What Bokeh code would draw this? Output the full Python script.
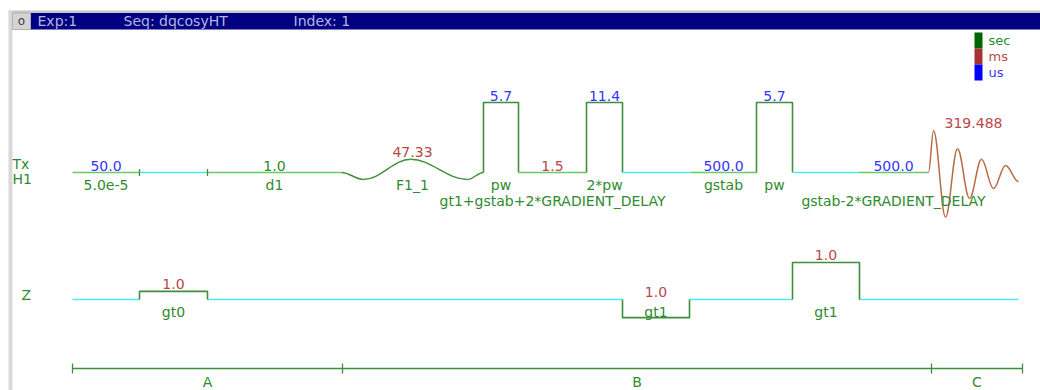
from bokeh.plotting import figure
from bokeh.models import Range1d, ColumnDataSource
from bokeh.core.properties import value
from bokeh.embed import file_html
from bokeh.resources import INLINE

# ---------------- data ----------------
exp_txt = "Exp:1"
seq_txt = "Seq: dqcosyHT"
idx_txt = "Index: 1"

# H1 channel events (schematic time axis of the diagram)
h1_kind = ["delay", "idle", "delay", "shape", "pulse", "delay", "pulse", "idle", "delay", "pulse", "idle", "delay", "acq"]
h1_t0 = [72, 139, 207, 341, 483, 518, 586, 622, 690, 756, 792, 858, 928]
h1_t1 = [139, 207, 341, 483, 518, 586, 622, 690, 756, 792, 858, 928, 1018]
h1_value = ["50.0", "", "1.0", "47.33", "5.7", "1.5", "11.4", "", "500.0", "5.7", "", "500.0", "319.488"]
h1_unit = ["us", "", "sec", "ms", "us", "ms", "us", "", "us", "us", "", "us", "ms"]
h1_name = ["5.0e-5", "", "d1", "F1_1", "pw", "gt1+gstab+2*GRADIENT_DELAY", "2*pw", "", "gstab", "pw", "",
           "gstab-2*GRADIENT_DELAY", ""]
h1_marks = [139, 207]

# shaped pulse F1_1 (relative amplitude at fractional positions)
shape_frac = [0.0, 0.155, 0.487, 0.887, 1.0]
shape_amp = [0.0, -0.10, 0.19, -0.10, 0.0]

# FID extrema (relative amplitude at fractional positions)
fid_frac = [0.0, 0.056, 0.189, 0.322, 0.456, 0.589, 0.722, 0.856, 1.0]
fid_amp = [0.0, 0.60, -0.64, 0.34, -0.37, 0.19, -0.23, 0.10, -0.13]

# Z gradient channel
z_t0 = [139, 622, 792]
z_t1 = [207, 689, 859]
z_amp = [0.22, -0.49, 1.0]
z_value = ["1.0", "1.0", "1.0"]
z_unit = ["ms", "ms", "ms"]
z_name = ["gt0", "gt1", "gt1"]
z_span = [72, 1018]

# sections
sec_names = ["A", "B", "C"]
sec_bounds = [72, 342, 931, 1022]

legend_units = ["sec", "ms", "us"]

# ---------------- layout / style ----------------
W, H = 1040, 390
X0, Y0 = 0, 0
H1_Y, H1_SCALE = 172, 70
Z_Y, Z_SCALE = 299, 37
T_Y = 368

FONT = value("DejaVu Sans")
FS = "14px"
unit_color = {"sec": "#2b8a2b", "ms": "#b84848", "us": "#3535f5", "": "#2b8a2b"}
square_color = {"sec": "#006400", "ms": "#a83232", "us": "#0000ff"}
LIGHT_GREEN = "#66cc66"
DARK_GREEN = "#3e8e3e"
CYAN = "#55e6ee"
NAME_GREEN = "#2e8b2e"
FID_COLOR = "#b86a44"

p = figure(width=W, height=H, x_range=Range1d(X0, X0 + W), y_range=Range1d(Y0 + H, Y0),
           output_backend="svg", toolbar_location=None, min_border=0)
p.axis.visible = False
p.grid.visible = False
p.outline_line_color = None
p.background_fill_color = "white"


def txt(x, y, t, color, align="center", size=FS):
    p.text(x=x, y=y, text=t, text_color=color, text_align=align, text_baseline="middle",
           text_font=FONT, text_font_size=size)


# frame / header
p.quad(left=[8], right=[1040], top=[10], bottom=[12.5], fill_color="#c8c8c8", line_color=None)
p.quad(left=[8], right=[12], top=[10], bottom=[392], fill_color="#d8d8d8", line_color=None)
p.quad(left=[12], right=[1040], top=[12.5], bottom=[29], fill_color="#000080", line_color=None)
p.quad(left=[12], right=[30], top=[12.5], bottom=[29], fill_color="#d4d4d4", line_color="#b0b0b0")
txt([21], [20], ["o"], "#404040", size="12px")
txt([37, 123, 293], [20.5, 20.5, 20.5], [exp_txt, seq_txt, idx_txt], "#b4b4e4", align="left", size="14px")

# legend
for i, u in enumerate(legend_units):
    p.quad(left=[974], right=[982], top=[32 + 16 * i], bottom=[48 + 16 * i],
           fill_color=square_color[u], line_color=None)
    txt([988], [40 + 16 * i], [u], unit_color[u], align="left", size="13px")

# channel labels
txt([12, 12], [163, 178], ["Tx", "H1"], NAME_GREEN, align="left")
txt([21], [294], ["Z"], NAME_GREEN, align="left")

# ---- H1 channel ----
vx, vy, vt, vc = [], [], [], []
nx, ny, nt = [], [], []
for k, a, b, v, u, n in zip(h1_kind, h1_t0, h1_t1, h1_value, h1_unit, h1_name):
    mid = (a + b) / 2
    if k in ("delay", "idle"):
        p.segment(x0=[a], y0=[H1_Y], x1=[b], y1=[H1_Y],
                  line_color=LIGHT_GREEN if k == "delay" else CYAN, line_width=1.6)
        top = H1_Y
    elif k == "pulse":
        top = H1_Y - H1_SCALE
        p.line(x=[a, a, b, b], y=[H1_Y, top, top, H1_Y], line_color=DARK_GREEN, line_width=1.6)
    elif k in ("shape", "acq"):
        fr = shape_frac if k == "shape" else fid_frac
        am = shape_amp if k == "shape" else fid_amp
        xs = [a + f * (b - a) for f in fr]
        ys = [H1_Y - m * H1_SCALE for m in am]
        x0s, y0s, x1s, y1s, c0x, c0y, c1x, c1y = [], [], [], [], [], [], [], []
        for i in range(len(xs) - 1):
            dx = xs[i + 1] - xs[i]
            x0s.append(xs[i]); y0s.append(ys[i]); x1s.append(xs[i + 1]); y1s.append(ys[i + 1])
            c0x.append(xs[i] + 0.364 * dx); c0y.append(ys[i])
            c1x.append(xs[i + 1] - 0.364 * dx); c1y.append(ys[i + 1])
        p.bezier(x0=x0s, y0=y0s, x1=x1s, y1=y1s, cx0=c0x, cy0=c0y, cx1=c1x, cy1=c1y,
                 line_color=DARK_GREEN if k == "shape" else FID_COLOR, line_width=1.5)
        top = min(ys)
    if v:
        vx.append(mid); vy.append(top - (7 if k != "acq" else 8)); vt.append(v); vc.append(unit_color[u])
    if n:
        nx.append(mid); ny.append(H1_Y + (28 if len(n) > 12 else 12)); nt.append(n)

p.segment(x0=h1_marks, y0=[H1_Y - 3.5] * len(h1_marks), x1=h1_marks, y1=[H1_Y + 3.5] * len(h1_marks),
          line_color=DARK_GREEN, line_width=1.3)
p.text(x="x", y="y", text="t", text_color="c", source=ColumnDataSource(dict(x=vx, y=vy, t=vt, c=vc)),
       text_align="center", text_baseline="middle", text_font=FONT, text_font_size=FS)
txt(nx, ny, nt, NAME_GREEN)

# ---- Z channel ----
edges = [z_span[0]] + [e for pair in zip(z_t0, z_t1) for e in pair] + [z_span[1]]
p.segment(x0=edges[0::2], y0=[Z_Y] * (len(edges) // 2), x1=edges[1::2], y1=[Z_Y] * (len(edges) // 2),
          line_color=CYAN, line_width=1.6)
zvx, zvy, zvt, zvc = [], [], [], []
for a, b, m, v, u, n in zip(z_t0, z_t1, z_amp, z_value, z_unit, z_name):
    lvl = Z_Y - m * Z_SCALE
    p.line(x=[a, a, b, b], y=[Z_Y, lvl, lvl, Z_Y], line_color=DARK_GREEN, line_width=1.6)
    zvx.append((a + b) / 2); zvy.append(min(Z_Y, lvl) - 7.5); zvt.append(v); zvc.append(unit_color[u])
    txt([(a + b) / 2], [Z_Y + 12], [n], NAME_GREEN)
p.text(x="x", y="y", text="t", text_color="c", source=ColumnDataSource(dict(x=zvx, y=zvy, t=zvt, c=zvc)),
       text_align="center", text_baseline="middle", text_font=FONT, text_font_size=FS)

# ---- sections timeline ----
p.segment(x0=[sec_bounds[0]], y0=[T_Y], x1=[sec_bounds[-1]], y1=[T_Y], line_color=DARK_GREEN, line_width=1.6)
p.segment(x0=sec_bounds, y0=[T_Y - 5] * len(sec_bounds), x1=sec_bounds, y1=[T_Y + 5] * len(sec_bounds),
          line_color=DARK_GREEN, line_width=1.3)
sx = [(sec_bounds[i] + sec_bounds[i + 1]) / 2 for i in range(len(sec_names))]
txt(sx, [T_Y + 13] * len(sec_names), sec_names, NAME_GREEN)

open("out.html", "w").write(file_html(p, INLINE))
